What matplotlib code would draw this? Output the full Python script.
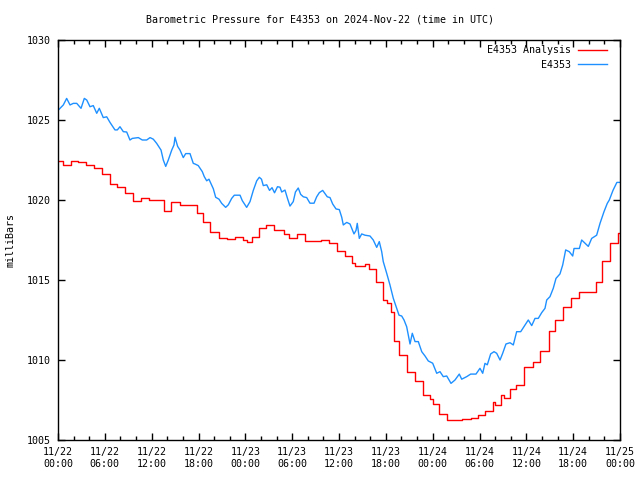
import matplotlib
matplotlib.use("Agg")
import matplotlib.pyplot as plt
import numpy as np
from datetime import datetime, timedelta

plt.rcParams['font.family'] = ['DejaVu Sans Mono']
plt.rcParams['font.size'] = 7.2

start = datetime(2024, 11, 22)

# E4353 observations (hours since 2024-11-22 00:00 UTC, millibars)
blue_hours = [0.04, 0.68, 1.11, 1.54, 1.96, 2.40, 2.95, 3.37, 3.68, 4.10, 4.52, 4.96, 5.29, 5.80,
              6.24, 6.66, 7.30, 7.60, 7.94, 8.37, 8.80, 9.22, 9.52, 10.29, 10.80, 11.36, 11.79,
              12.21, 12.64, 13.20, 13.49, 13.80, 14.13, 14.57, 14.86, 14.99, 15.33, 15.63, 16.05,
              16.36, 16.91, 17.33, 17.55, 17.97, 18.49, 18.74, 19.05, 19.34, 19.90, 20.20, 20.63,
              20.97, 21.48, 21.82, 22.25, 22.59, 23.32, 23.61, 24.17, 24.60, 25.02, 25.46, 25.79,
              26.07, 26.30, 26.74, 27.10, 27.42, 27.74, 28.12, 28.44, 28.66, 29.08, 29.40, 29.72,
              30.14, 30.42, 30.78, 31.09, 31.43, 31.86, 32.28, 32.80, 33.14, 33.48, 33.91, 34.21,
              34.50, 34.85, 35.19, 35.62, 36.04, 36.35, 36.55, 36.99, 37.41, 37.92, 38.18, 38.34,
              38.60, 38.91, 39.33, 39.97, 40.39, 40.83, 41.16, 41.47, 41.67, 42.11, 42.53, 42.96,
              43.39, 43.69, 44.03, 44.33, 44.67, 45.10, 45.39, 45.74, 46.16, 46.60, 47.02, 47.44,
              48.00, 48.52, 48.94, 49.36, 49.80, 50.35, 50.86, 51.41, 51.72, 52.36, 52.87, 53.55,
              54.06, 54.41, 54.70, 55.00, 55.43, 55.86, 56.20, 56.63, 56.97, 57.39, 57.91, 58.33,
              58.76, 59.28, 59.83, 60.25, 60.69, 61.11, 61.53, 61.97, 62.39, 62.61, 63.03, 63.45,
              63.80, 64.31, 64.66, 65.04, 65.50, 65.94, 66.11, 66.79, 67.09, 67.52, 67.94, 68.37,
              69.01, 69.44, 69.95, 70.37, 70.63, 71.10, 71.60, 72.00]
blue_mb = [1025.62, 1025.94, 1026.35, 1025.94, 1026.04, 1026.04, 1025.73, 1026.35, 1026.25, 1025.83,
           1025.90, 1025.42, 1025.73, 1025.15, 1025.20, 1024.85, 1024.38, 1024.38, 1024.58, 1024.27,
           1024.25, 1023.75, 1023.85, 1023.90, 1023.75, 1023.75, 1023.90, 1023.80, 1023.54, 1023.12,
           1022.50, 1022.10, 1022.50, 1023.12, 1023.44, 1023.92, 1023.35, 1023.12, 1022.65, 1022.90,
           1022.90, 1022.29, 1022.25, 1022.15, 1021.77, 1021.46, 1021.20, 1021.30, 1020.70, 1020.17,
           1020.05, 1019.79, 1019.54, 1019.70, 1020.10, 1020.30, 1020.30, 1019.96, 1019.54, 1019.90,
           1020.60, 1021.20, 1021.42, 1021.30, 1020.90, 1020.95, 1020.60, 1020.77, 1020.45, 1020.83,
           1020.80, 1020.50, 1020.62, 1020.10, 1019.62, 1019.90, 1020.50, 1020.75, 1020.35, 1020.20,
           1020.15, 1019.80, 1019.80, 1020.20, 1020.46, 1020.60, 1020.40, 1020.20, 1020.15, 1019.75,
           1019.44, 1019.40, 1018.92, 1018.44, 1018.60, 1018.50, 1017.88, 1018.10, 1018.54, 1017.60,
           1017.88, 1017.80, 1017.75, 1017.50, 1017.04, 1017.40, 1016.77, 1016.15, 1015.42, 1014.69,
           1013.85, 1013.23, 1012.80, 1012.75, 1012.50, 1012.08, 1011.00, 1011.67, 1011.15, 1011.15,
           1010.52, 1010.25, 1009.94, 1009.80, 1009.17, 1009.27, 1008.96, 1009.00, 1008.54, 1008.75,
           1009.12, 1008.80, 1008.96, 1009.12, 1009.12, 1009.48, 1009.17, 1009.79, 1009.70, 1010.38,
           1010.52, 1010.42, 1010.00, 1010.42, 1011.00, 1011.08, 1010.94, 1011.77, 1011.77, 1012.19,
           1012.50, 1012.15, 1012.60, 1012.60, 1012.96, 1013.23, 1013.75, 1013.96, 1014.48, 1015.10,
           1015.38, 1015.94, 1016.88, 1016.77, 1016.50, 1016.97, 1016.97, 1017.50, 1017.30, 1017.10,
           1017.60, 1017.80, 1018.54, 1019.27, 1019.79, 1020.00, 1020.60, 1021.10, 1021.10]

# E4353 Analysis (step changes: hour, millibars)
red_hours = [0.0, 0.65, 1.65, 2.6, 3.6, 4.65, 5.6, 6.66, 7.6, 8.6, 9.65, 10.6, 11.7, 13.6, 14.5,
             15.6, 17.8, 18.6, 19.5, 20.6, 21.6, 22.7, 23.7, 24.2, 24.8, 25.7, 26.7, 27.7, 28.95,
             29.6, 30.6, 31.6, 33.65, 34.76, 35.8, 36.8, 37.7, 38.1, 39.3, 39.8, 40.8, 41.6, 42.1,
             42.6, 43.0, 43.7, 44.67, 45.8, 46.8, 47.7, 48.08, 48.77, 49.8, 50.6, 51.4, 51.8, 52.87,
             53.76, 54.74, 55.77, 55.98, 56.7, 57.1, 57.86, 58.7, 59.74, 60.85, 61.8, 62.86, 63.7,
             64.7, 65.7, 66.74, 68.9, 69.7, 70.75, 71.7]
red_mb = [1022.44, 1022.19, 1022.44, 1022.38, 1022.19, 1022.00, 1021.62, 1021.00, 1020.81, 1020.44,
          1019.94, 1020.10, 1020.00, 1019.31, 1019.88, 1019.69, 1019.20, 1018.60, 1018.00, 1017.60,
          1017.54, 1017.67, 1017.50, 1017.40, 1017.67, 1018.23, 1018.42, 1018.12, 1017.88, 1017.62,
          1017.90, 1017.42, 1017.50, 1017.29, 1016.79, 1016.50, 1016.04, 1015.88, 1016.00, 1015.67,
          1014.90, 1013.75, 1013.54, 1013.00, 1011.20, 1010.31, 1009.23, 1008.67, 1007.79, 1007.54,
          1007.25, 1006.62, 1006.25, 1006.28, 1006.25, 1006.30, 1006.35, 1006.54, 1006.81, 1007.38,
          1007.17, 1007.81, 1007.60, 1008.17, 1008.42, 1009.58, 1009.85, 1010.58, 1011.83, 1012.50,
          1013.29, 1013.85, 1014.25, 1014.90, 1016.17, 1017.33, 1017.92]

title = "Barometric Pressure for E4353 on 2024-Nov-22 (time in UTC)"
y_ticks = [1005, 1010, 1015, 1020, 1025, 1030]
x_major_hours = list(range(0, 73, 6))
x_labels = [(start + timedelta(hours=h)).strftime('%m/%d\n%H:%M') for h in x_major_hours]

fig = plt.figure(figsize=(6.4, 4.8), dpi=100)
ax = fig.add_axes([58 / 640, 1 - 440 / 480, 562 / 640, 400 / 480])

rh = red_hours + [72.0]
rv = red_mb + [red_mb[-1]]
ax.step(rh, rv, where='post', color='#ff0000', lw=1.0, label='E4353 Analysis')
ax.plot(blue_hours, blue_mb, color='#1e90ff', lw=1.0, label='E4353')

ax.set_xlim(0, 72)
ax.set_ylim(1005, 1030)
ax.set_xticks(x_major_hours)
ax.set_xticklabels(x_labels)
ax.set_xticks(list(range(0, 73, 2)), minor=True)
ax.set_yticks(y_ticks)
ax.set_yticklabels([str(v) for v in y_ticks])
ax.tick_params(which='major', direction='in', top=True, right=True, length=5, width=1, pad=5)
ax.tick_params(which='minor', direction='in', top=True, right=False, left=False, length=3, width=1)
ax.tick_params(axis='y', which='minor', length=0)
for s in ax.spines.values():
    s.set_linewidth(1)

leg = ax.legend(loc='upper right', bbox_to_anchor=(1 - 6 / 562, 1 + 2 / 400), frameon=False,
                markerfirst=False, handlelength=2.9, borderaxespad=0.3, labelspacing=0.45,
                handletextpad=0.7)
for t in leg.get_texts():
    t.set_ha('right')

fig.text(0.5, 1 - 19 / 480, title, ha='center', va='center')
fig.text(11 / 640, 0.5, 'milliBars', rotation=90, ha='center', va='center')

fig.savefig('out.png', dpi=100)
